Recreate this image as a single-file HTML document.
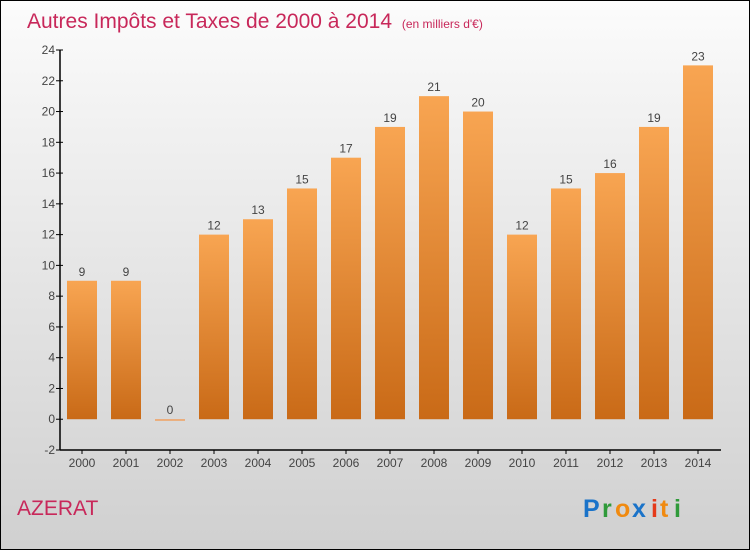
<!DOCTYPE html>
<html><head><meta charset="utf-8"><style>
body{margin:0}
#c{width:748px;height:548px;border:1px solid #000;background:linear-gradient(#fcfcfc,#f2f2f2 20%,#d0d0d0);position:relative;overflow:hidden;font-family:"Liberation Sans",sans-serif}
</style></head><body>
<div id="c">
<svg width="748" height="548" style="position:absolute;left:0;top:0" id="svg">
<defs><linearGradient id="bg" x1="0" y1="0" x2="0" y2="1"><stop offset="0" stop-color="#f8a552"/><stop offset="1" stop-color="#c96a17"/></linearGradient></defs>
<text x="26" y="27" font-size="21" fill="#c8285a">Autres Impôts et Taxes de 2000 à 2014 <tspan font-size="12" dx="4">(en milliers d'€)</tspan></text>
<text x="16" y="514" font-size="21" fill="#c8285a">AZERAT</text>
<g font-size="25" font-weight="bold">
<text x="582" y="516" fill="#1a73c9">P</text><text x="601" y="516" fill="#2f9a3a">r</text><text x="614" y="516" fill="#f08a10">o</text><text x="631" y="516" fill="#1a73c9">x</text><text x="650" y="516" fill="#e53a1a">i</text><text x="659" y="516" fill="#f08a10">t</text><text x="673" y="516" fill="#2f9a3a">i</text>
</g>
<g id="plot"></g>
</svg>
</div>
<script>
const years=["2000","2001","2002","2003","2004","2005","2006","2007","2008","2009","2010","2011","2012","2013","2014"];
const values=[9,9,0,12,13,15,17,19,21,20,12,15,16,19,23];
const yTicks=[-2,0,2,4,6,8,10,12,14,16,18,20,22,24];
const NS="http://www.w3.org/2000/svg";
const g=document.getElementById('plot');
const yMin=-2,yMax=24,pTop=49,pBot=449,pLeft=59;
const ys=v=>pBot-(v-yMin)/(yMax-yMin)*(pBot-pTop);
const xs=i=>81+i*44;
function el(t,a){const e=document.createElementNS(NS,t);for(const k in a)e.setAttribute(k,a[k]);g.appendChild(e);return e;}
const ax=el('line',{x1:pLeft,y1:pTop,x2:pLeft,y2:pBot,stroke:'#000','stroke-width':1.5});


const bx=el('line',{x1:pLeft,y1:pBot,x2:720,y2:pBot,stroke:'#000','stroke-width':1.5});


yTicks.forEach(v=>{
 el('line',{x1:pLeft-4,y1:ys(v),x2:pLeft+3,y2:ys(v),stroke:'#000'});
 const t=el('text',{x:pLeft-5,y:ys(v)+4,'text-anchor':'end','font-size':12,fill:'#444'});t.textContent=v;
 
 
});
years.forEach((yr,i)=>{
 el('line',{x1:xs(i),y1:pBot,x2:xs(i),y2:pBot+4,stroke:'#000'});
 const t=el('text',{x:xs(i),y:pBot+17,'text-anchor':'middle','font-size':12,fill:'#444'});t.textContent=yr;
 
 
 const v=values[i];
 const h=Math.max(ys(0)-ys(v),1.5);
 const r=el('rect',{x:xs(i)-15,y:ys(v),width:30,height:h,fill:v?'url(#bg)':'#f0a060'});
 
 
 const l=el('text',{x:xs(i),y:ys(v)-5,'text-anchor':'middle','font-size':12,fill:'#444'});l.textContent=v;
 
 
});
</script>
</body></html>
